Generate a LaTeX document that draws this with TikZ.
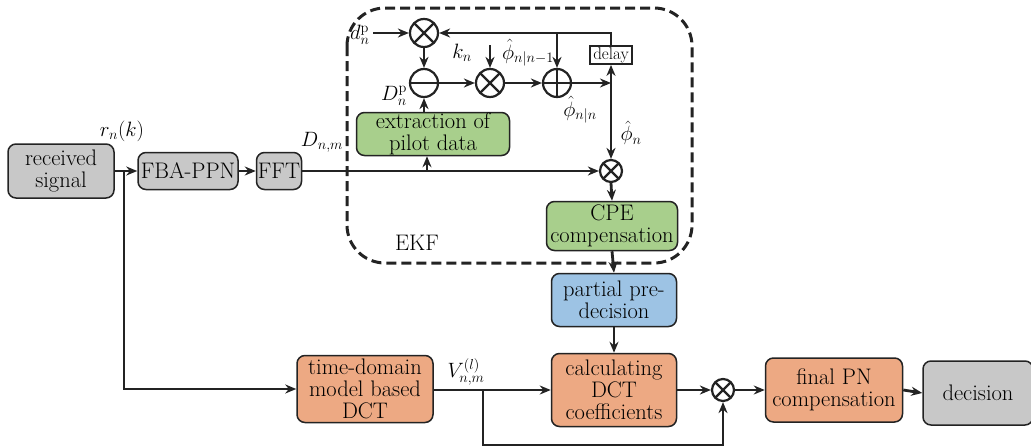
\documentclass[tikz,border=0pt]{standalone}
\usetikzlibrary{arrows.meta}
\definecolor{boxgray}{RGB}{200,200,200}
\definecolor{boxgreen}{RGB}{168,207,140}
\definecolor{boxorange}{RGB}{237,169,131}
\definecolor{boxblue}{RGB}{157,195,228}
\definecolor{ink}{RGB}{35,35,35}
\begin{document}
\begin{tikzpicture}[x=1pt,y=-1pt,
  line width=2.8pt, draw=ink,
  >={Stealth[length=11pt,width=9pt]},
  blk/.style={draw=ink, line width=1.5pt, rounded corners=8pt, align=center,
    inner sep=0pt, font=\fontsize{22.5}{22}\selectfont},
  graybox/.style={blk, fill=boxgray},
  greenbox/.style={blk, fill=boxgreen},
  orangebox/.style={blk, fill=boxorange},
  bluebox/.style={blk, fill=boxblue},
  delaybox/.style={draw=ink, line width=1.8pt, inner sep=0pt, fill=white,
    font=\fontsize{17}{18}\selectfont},
  opbase/.style={circle, draw=ink, line width=2.2pt, inner sep=0pt, fill=white},
  mult/.style={opbase, minimum size=#1,
    path picture={\draw[line width=2.2pt]
      (path picture bounding box.north west) -- (path picture bounding box.south east)
      (path picture bounding box.north east) -- (path picture bounding box.south west);}},
  addop/.style={opbase, minimum size=#1,
    path picture={\draw[line width=2.2pt]
      (path picture bounding box.north) -- (path picture bounding box.south)
      (path picture bounding box.west) -- (path picture bounding box.east);}},
  subop/.style={opbase, minimum size=#1,
    path picture={\draw[line width=2.2pt]
      (path picture bounding box.west) -- (path picture bounding box.east);}},
  lbl/.style={inner sep=0pt, font=\fontsize{21}{22}\selectfont},
  ekfborder/.style={draw=ink, line width=3pt, dash pattern=on 10pt off 5pt,
    rounded corners=38pt}
]
\useasboundingbox (0,0) rectangle (1031,447);

% EKF region
\draw[ekfborder] (347,8) rectangle (692,263);
\node[lbl, font=\fontsize{22.5}{22}\selectfont] (ekf) at (417,243) {EKF};

% main chain
\node[graybox, minimum width=106, minimum height=54] (rs) at (61,171) {received\\signal};
\node[graybox, minimum width=100, minimum height=37] (fba) at (188,171) {FBA-PPN};
\node[graybox, minimum width=45, minimum height=37] (fft) at (279,171) {FFT};

% EKF internals
\node[greenbox, minimum width=153, minimum height=43] (ex) at (433,134) {extraction of\\pilot data};
\node[greenbox, minimum width=131, minimum height=49] (cpe) at (612,226) {CPE\\compensation};
\node[mult=28] (m1) at (424,33) {};
\node[subop=28] (sub) at (424,83) {};
\node[mult=28] (m2) at (490,83) {};
\node[addop=28] (add) at (557,83) {};
\node[delaybox, minimum width=42, minimum height=18] (delay) at (611,55) {delay};
\node[mult=22] (m3) at (611,171) {};

% lower chain
\node[bluebox, minimum width=125, minimum height=53] (pp) at (614,300) {partial pre-\\decision};
\node[orangebox, minimum width=136, minimum height=67] (td) at (365,389) {time-domain\\model based\\DCT};
\node[orangebox, minimum width=125, minimum height=73] (calc) at (614,390) {calculating\\DCT\\coefficients};
\node[mult=22] (m4) at (723,390) {};
\node[orangebox, minimum width=137, minimum height=64] (fin) at (834,390) {final PN\\compensation};
\node[graybox, minimum width=110, minimum height=64] (dec) at (978,393) {decision};

% branch points and free ends
\coordinate (j1) at (124,171);
\coordinate (j2) at (427,171);
\coordinate (j3) at (557,33);
\coordinate (j4) at (611,83);
\coordinate (j5) at (483,390);
\coordinate (kin) at (490,45);
\coordinate (din) at (373,33);

% connectors
\draw[->] (rs.east) -- (fba.west);
\draw[->] (fba.east) -- (fft.west);
\draw[->] (j1) |- (td.west);
\draw[->] (fft.east) -- (m3.west);
\draw[->] (j2) -- (j2 |- ex.south);
\draw[->] (ex.north -| sub) -- (sub.south);
\draw[->] (din) -- (m1.west);
\draw[->] (m1.south) -- (sub.north);
\draw[->] (sub.east) -- (m2.west);
\draw[->] (kin) -- (m2.north);
\draw[->] (m2.east) -- (add.west);
\draw[->] (add.east) -- (j4);
\draw[->] (j4) -- (delay.south);
\draw[->] (j4) -- (m3.north);
\draw[->] (delay.north) |- (m1.east);
\draw[->] (j3) -- (add.north);
\draw[->] (m3.south) -- (cpe.north);
\draw[->] (cpe.south) -- (pp.north);
\draw[->] (pp.south) -- (calc.north);
\draw[->] (td.east |- j5) -- (calc.west);
\draw[->] (j5) -- ++(0,55) -| (m4.south);
\draw[->] (calc.east) -- (m4.west);
\draw[->] (m4.east) -- (fin.west);
\draw[->] (fin.east) -- (dec.west);

% signal labels
\node[lbl] (lr) at (122,131) {$r_{n}(k)$};
\node[lbl] (lD) at (322,142) {$D_{n,m}$};
\node[lbl, anchor=east] (ld) at (371,35) {$d_{n}^{\mathrm{p}}$};
\node[lbl] (lk) at (462,53) {$k_{n}$};
\node[lbl] (lp1) at (528,53) {$\hat{\phi}_{n|n-1}$};
\node[lbl] (lDp) at (394,96) {$D_{n}^{\mathrm{p}}$};
\node[lbl] (lp2) at (580,110) {$\hat{\phi}_{n|n}$};
\node[lbl] (lp3) at (631,133) {$\hat{\phi}_{n}$};
\node[lbl] (lV) at (466,372) {$V_{n,m}^{(l)}$};
\end{tikzpicture}
\end{document}
